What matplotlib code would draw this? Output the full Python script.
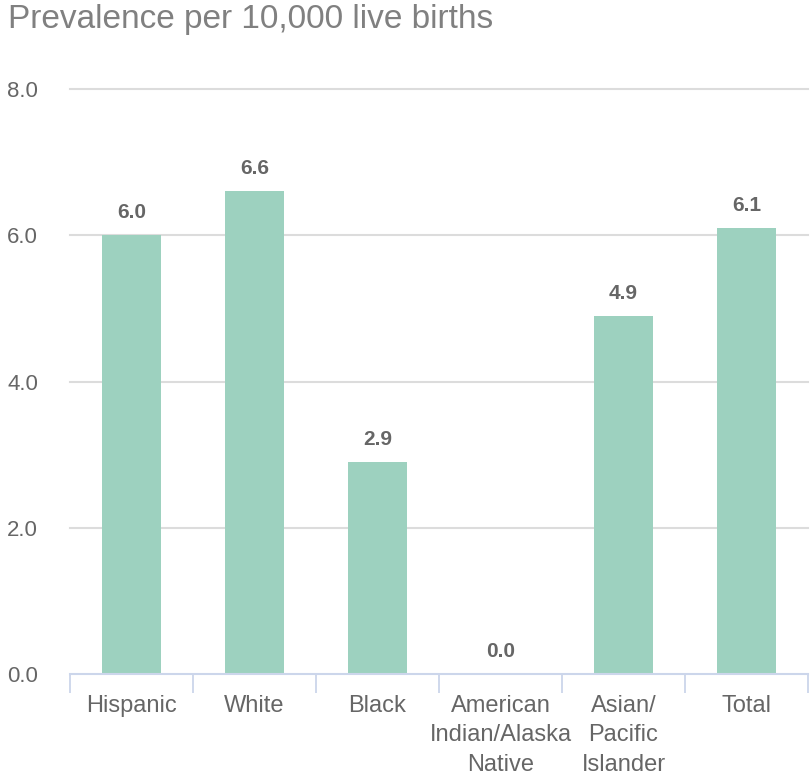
import matplotlib.pyplot as plt
import numpy as np

plt.rcParams['font.family'] = ['Liberation Sans', 'DejaVu Sans']

# data
categories = ["Hispanic", "White", "Black", "American\nIndian/Alaska\nNative",
              "Asian/\nPacific\nIslander", "Total"]
values = [6.0, 6.6, 2.9, 0.0, 4.9, 6.1]
yticks = [0.0, 2.0, 4.0, 6.0, 8.0]

bar_color = "#9dd1bf"
text_gray = "#666666"

fig = plt.figure(figsize=(8.11, 7.76), dpi=100)
ax = fig.add_axes([70 / 811, 1 - 674 / 776, 738 / 811, (674 - 89) / 776])

x = np.arange(len(categories))
ax.bar(x, values, width=0.48, color=bar_color, zorder=3)

# value labels
for xi, v in zip(x, values):
    ax.text(xi, v + 0.18, f"{v:.1f}", ha="center", va="bottom",
            fontsize=15, fontweight="bold", color=text_gray)

ax.set_xlim(-0.5, len(categories) - 0.5)
ax.set_ylim(0, 8)

# gridlines
for yt in yticks[1:]:
    ax.axhline(yt, color="#dcdcdc", lw=1.5, zorder=1, clip_on=False)

ax.set_yticks(yticks)
ax.set_yticklabels([f"{t:.1f}" for t in yticks], fontsize=16, color=text_gray)
ax.tick_params(axis="y", length=0, pad=23)

# category boundaries as major ticks, labels on minor
ax.set_xticks(np.arange(len(categories) + 1) - 0.5)
ax.set_xticklabels([])
ax.tick_params(axis="x", which="major", length=14, width=1.3, color="#ccd6eb",
               direction="out")
ax.set_xticks(x, minor=True)
ax.set_xticklabels(categories, minor=True, fontsize=17, color=text_gray,
                   linespacing=1.45)
ax.tick_params(axis="x", which="minor", length=0, pad=15)

for s in ["top", "right", "left"]:
    ax.spines[s].set_visible(False)
ax.spines["bottom"].set_color("#ccd6eb")
ax.spines["bottom"].set_linewidth(1.5)
ax.spines["bottom"].set_zorder(4)

fig.text(8 / 811, 1 - 28 / 776, "Prevalence per 10,000 live births",
         fontsize=24, color="#808080", ha="left", va="baseline")

fig.savefig("out.png", dpi=100)
